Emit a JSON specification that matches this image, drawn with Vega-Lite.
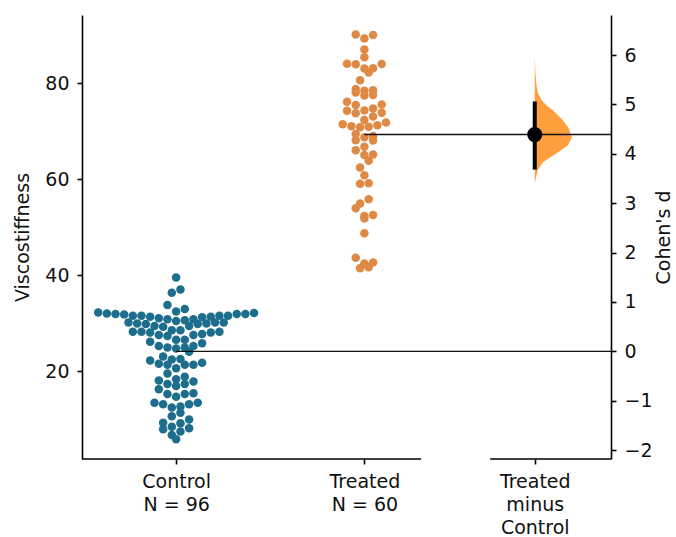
{
  "$schema": "https://vega.github.io/schema/vega-lite/v6.json",
  "width": 529,
  "height": 444,
  "autosize": {"type": "none"},
  "padding": {"left": 82, "top": 15, "right": 65, "bottom": 78},
  "background": "white",
  "config": {
    "view": {"stroke": null},
    "font": "DejaVu Sans",
    "axis": {"grid": false, "domainColor": "black", "tickColor": "black", "domainWidth": 1.6, "tickWidth": 1.6, "tickSize": 5, "labelColor": "#111111", "titleColor": "#111111", "labelFontSize": 19, "titleFontSize": 19, "titleFontWeight": "normal", "labelFont": "DejaVu Sans", "titleFont": "DejaVu Sans", "labelPadding": 8}
  },
  "datasets": {
    "swarm": [
      {"group": "Control", "v": 39.5}, {"group": "Control", "v": 37.0}, {"group": "Control", "v": 36.3},
      {"group": "Control", "v": 33.75}, {"group": "Control", "v": 32.9},
      {"group": "Control", "v": 32.2}, {"group": "Control", "v": 31.3}, {"group": "Control", "v": 30.8}, {"group": "Control", "v": 30.6},
      {"group": "Control", "v": 32.4}, {"group": "Control", "v": 31.9}, {"group": "Control", "v": 31.9}, {"group": "Control", "v": 31.5},
      {"group": "Control", "v": 31.2}, {"group": "Control", "v": 32.1}, {"group": "Control", "v": 31.5}, {"group": "Control", "v": 31.5},
      {"group": "Control", "v": 31.8}, {"group": "Control", "v": 31.9}, {"group": "Control", "v": 30.8}, {"group": "Control", "v": 31.0},
      {"group": "Control", "v": 32.0}, {"group": "Control", "v": 31.3}, {"group": "Control", "v": 31.5},
      {"group": "Control", "v": 28.5}, {"group": "Control", "v": 30.1}, {"group": "Control", "v": 28.2}, {"group": "Control", "v": 29.9},
      {"group": "Control", "v": 28.0}, {"group": "Control", "v": 29.8}, {"group": "Control", "v": 27.7}, {"group": "Control", "v": 29.4},
      {"group": "Control", "v": 27.3}, {"group": "Control", "v": 29.2}, {"group": "Control", "v": 30.1}, {"group": "Control", "v": 28.0},
      {"group": "Control", "v": 30.4}, {"group": "Control", "v": 28.5}, {"group": "Control", "v": 29.4}, {"group": "Control", "v": 29.9},
      {"group": "Control", "v": 27.5}, {"group": "Control", "v": 30.1}, {"group": "Control", "v": 28.2}, {"group": "Control", "v": 28.2},
      {"group": "Control", "v": 29.8},
      {"group": "Control", "v": 25.2}, {"group": "Control", "v": 24.9}, {"group": "Control", "v": 26.1}, {"group": "Control", "v": 24.0},
      {"group": "Control", "v": 24.9}, {"group": "Control", "v": 26.5}, {"group": "Control", "v": 26.5}, {"group": "Control", "v": 24.7},
      {"group": "Control", "v": 25.2}, {"group": "Control", "v": 27.5}, {"group": "Control", "v": 25.8},
      {"group": "Control", "v": 22.5}, {"group": "Control", "v": 21.7}, {"group": "Control", "v": 21.3}, {"group": "Control", "v": 21.3},
      {"group": "Control", "v": 22.4}, {"group": "Control", "v": 20.6}, {"group": "Control", "v": 23.0}, {"group": "Control", "v": 21.3},
      {"group": "Control", "v": 21.5}, {"group": "Control", "v": 22.2},
      {"group": "Control", "v": 19.5}, {"group": "Control", "v": 18.3}, {"group": "Control", "v": 18.0}, {"group": "Control", "v": 17.3},
      {"group": "Control", "v": 16.9}, {"group": "Control", "v": 16.2}, {"group": "Control", "v": 17.3}, {"group": "Control", "v": 17.8},
      {"group": "Control", "v": 18.8},
      {"group": "Control", "v": 15.2}, {"group": "Control", "v": 14.65}, {"group": "Control", "v": 15.35}, {"group": "Control", "v": 15.2},
      {"group": "Control", "v": 13.1}, {"group": "Control", "v": 12.6}, {"group": "Control", "v": 12.4}, {"group": "Control", "v": 13.4},
      {"group": "Control", "v": 13.1}, {"group": "Control", "v": 13.4},
      {"group": "Control", "v": 10.6}, {"group": "Control", "v": 9.9}, {"group": "Control", "v": 11.3},
      {"group": "Control", "v": 9.1}, {"group": "Control", "v": 8.06}, {"group": "Control", "v": 6.66}, {"group": "Control", "v": 7.85},
      {"group": "Control", "v": 5.8}, {"group": "Control", "v": 7.4}, {"group": "Control", "v": 8.4}, {"group": "Control", "v": 9.2},
      {"group": "Treated", "v": 90.0}, {"group": "Treated", "v": 89.3}, {"group": "Treated", "v": 90.1},
      {"group": "Treated", "v": 87.0}, {"group": "Treated", "v": 85.35},
      {"group": "Treated", "v": 83.96}, {"group": "Treated", "v": 83.9}, {"group": "Treated", "v": 82.2}, {"group": "Treated", "v": 83.06},
      {"group": "Treated", "v": 83.0}, {"group": "Treated", "v": 84.0}, {"group": "Treated", "v": 80.6},
      {"group": "Treated", "v": 78.5}, {"group": "Treated", "v": 78.0}, {"group": "Treated", "v": 77.5}, {"group": "Treated", "v": 77.4},
      {"group": "Treated", "v": 78.4}, {"group": "Treated", "v": 78.75},
      {"group": "Treated", "v": 76.1}, {"group": "Treated", "v": 75.4},
      {"group": "Treated", "v": 74.7}, {"group": "Treated", "v": 74.2}, {"group": "Treated", "v": 73.7}, {"group": "Treated", "v": 73.0},
      {"group": "Treated", "v": 73.8}, {"group": "Treated", "v": 74.3}, {"group": "Treated", "v": 75.5},
      {"group": "Treated", "v": 71.8}, {"group": "Treated", "v": 71.4}, {"group": "Treated", "v": 71.0}, {"group": "Treated", "v": 70.9},
      {"group": "Treated", "v": 70.8}, {"group": "Treated", "v": 71.2}, {"group": "Treated", "v": 72.3},
      {"group": "Treated", "v": 68.95}, {"group": "Treated", "v": 68.0}, {"group": "Treated", "v": 68.1}, {"group": "Treated", "v": 68.7},
      {"group": "Treated", "v": 69.4},
      {"group": "Treated", "v": 66.7}, {"group": "Treated", "v": 66.0}, {"group": "Treated", "v": 65.0}, {"group": "Treated", "v": 65.1},
      {"group": "Treated", "v": 63.8},
      {"group": "Treated", "v": 62.4}, {"group": "Treated", "v": 60.8},
      {"group": "Treated", "v": 59.1}, {"group": "Treated", "v": 59.0},
      {"group": "Treated", "v": 55.8}, {"group": "Treated", "v": 54.9},
      {"group": "Treated", "v": 53.9}, {"group": "Treated", "v": 52.3}, {"group": "Treated", "v": 51.8}, {"group": "Treated", "v": 52.5},
      {"group": "Treated", "v": 48.68},
      {"group": "Treated", "v": 43.6}, {"group": "Treated", "v": 41.6}, {"group": "Treated", "v": 41.4}, {"group": "Treated", "v": 42.4},
      {"group": "Treated", "v": 42.6}
    ],
    "boot": [
      {"d": 5.99, "density": 0}, {"d": 5.69, "density": 0.014}, {"d": 5.43, "density": 0.04}, {"d": 5.24, "density": 0.08},
      {"d": 5.08, "density": 0.19}, {"d": 4.98, "density": 0.32}, {"d": 4.88, "density": 0.49}, {"d": 4.68, "density": 0.76},
      {"d": 4.51, "density": 0.92}, {"d": 4.33, "density": 1.0}, {"d": 4.17, "density": 0.89}, {"d": 4.01, "density": 0.59},
      {"d": 3.91, "density": 0.38}, {"d": 3.83, "density": 0.22}, {"d": 3.67, "density": 0.08}, {"d": 3.5, "density": 0.027},
      {"d": 3.4, "density": 0}
    ],
    "means": [
      {"group": "Control", "d": 0},
      {"group": "Treated", "d": 4.39}
    ],
    "effect": [
      {"comparison": "Treated minus Control", "d": 4.39, "lo": 3.68, "hi": 5.06}
    ]
  },
  "resolve": {"scale": {"y": "independent"}},
  "layer": [
    {
      "layer": [
        {
          "data": {"name": "swarm"},
          "transform": [
            {"bin": {"step": 2.0, "anchor": 0.3}, "field": "v", "as": ["vb", "vb_end"]},
            {"window": [{"op": "row_number", "as": "i"}], "groupby": ["group", "vb"], "sort": [{"field": "v", "order": "ascending"}]},
            {"joinaggregate": [{"op": "count", "as": "n"}], "groupby": ["group", "vb"]},
            {"calculate": "(datum.group === 'Control' ? 0 : 1) + 0.046 * ((datum.i % 2 === 1 ? -(datum.i - 1) / 2 : datum.i / 2) - (datum.n % 2 === 0 ? 0.5 : 0))", "as": "xs"}
          ],
          "mark": {"type": "circle", "size": 72, "opacity": 1},
          "encoding": {
            "x": {
              "field": "xs", "type": "quantitative",
              "scale": {"domain": [-0.5, 2.31], "nice": false, "zero": false},
              "axis": {
                "values": [0, 1, 1.905], "domain": false, "title": null, "labelPadding": 8,
                "labelLineHeight": 23, "labelBaseline": "top",
                "labelExpr": "datum.value === 0 ? ['Control', 'N = 96'] : datum.value === 1 ? ['Treated', 'N = 60'] : ['Treated', 'minus', 'Control']"
              }
            },
            "y": {
              "field": "v", "type": "quantitative",
              "scale": {"domain": [1.67, 94.17], "nice": false, "zero": false},
              "axis": {"values": [20, 40, 60, 80], "title": "Viscostiffness", "titlePadding": 12}
            },
            "color": {"field": "group", "type": "nominal", "scale": {"domain": ["Control", "Treated"], "range": ["#1d6e8d", "#df8944"]}, "legend": null}
          }
        },
        {
          "data": {"values": [{}]},
          "mark": {"type": "rule", "color": "black", "strokeWidth": 1.6},
          "encoding": {"x": {"datum": -0.5}, "x2": {"datum": 1.301}, "y": {"datum": 1.67}}
        },
        {
          "data": {"values": [{}]},
          "mark": {"type": "rule", "color": "black", "strokeWidth": 1.6},
          "encoding": {"x": {"datum": 1.668}, "x2": {"datum": 2.31}, "y": {"datum": 1.67}}
        }
      ]
    },
    {
      "layer": [
        {
          "data": {"name": "boot"},
          "transform": [{"calculate": "1.905 + 0.197 * datum.density", "as": "xr"}],
          "mark": {"type": "area", "orient": "horizontal", "color": "#ff9933", "opacity": 0.95},
          "encoding": {
            "y": {"field": "d", "type": "quantitative", "scale": {"domain": [-2.18, 6.81], "nice": false, "zero": false},
                  "axis": {"orient": "right", "values": [-2, -1, 0, 1, 2, 3, 4, 5, 6], "title": "Cohen's d", "titlePadding": 21, "titleAngle": 270}},
            "x": {"field": "xr", "type": "quantitative"},
            "x2": {"datum": 1.905}
          }
        },
        {
          "data": {"name": "means"},
          "transform": [{"calculate": "datum.group === 'Control' ? 0 : 1", "as": "xc"}],
          "mark": {"type": "rule", "color": "#111111", "strokeWidth": 1.3},
          "encoding": {
            "x": {"field": "xc", "type": "quantitative"},
            "x2": {"datum": 2.31},
            "y": {"field": "d", "type": "quantitative"}
          }
        },
        {
          "data": {"name": "effect"},
          "mark": {"type": "rule", "color": "black", "strokeWidth": 4},
          "encoding": {
            "x": {"datum": 1.905},
            "y": {"field": "lo", "type": "quantitative"},
            "y2": {"field": "hi"}
          }
        },
        {
          "data": {"name": "effect"},
          "mark": {"type": "circle", "color": "black", "size": 230, "opacity": 1},
          "encoding": {
            "x": {"datum": 1.905},
            "y": {"field": "d", "type": "quantitative"}
          }
        }
      ]
    }
  ]
}
